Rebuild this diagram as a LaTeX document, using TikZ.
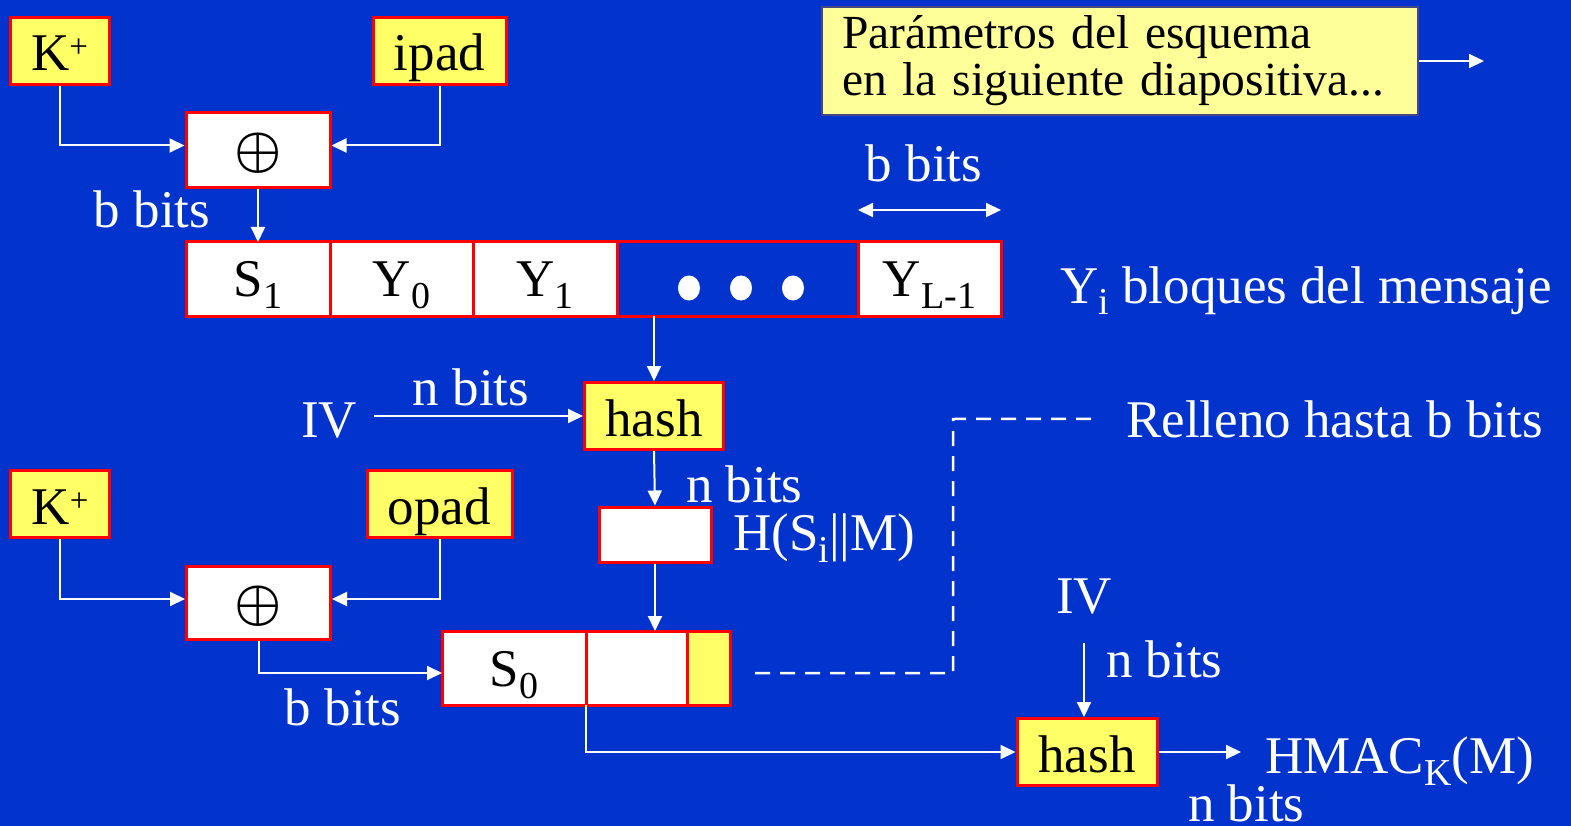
\documentclass[tikz,border=0pt]{standalone}
\usepackage{fontspec}
\setmainfont{Liberation Serif}
\usetikzlibrary{arrows.meta,calc}
\definecolor{bg}{RGB}{2,51,204}
\definecolor{boxyellow}{RGB}{255,255,102}
\definecolor{paleyellow}{RGB}{255,255,153}
\definecolor{boxred}{RGB}{255,0,0}
\definecolor{noteedge}{RGB}{70,70,130}
\newcommand\fmain{\fontsize{53}{58}\selectfont}
\newcommand\fnote{\fontsize{47.5}{47}\selectfont}
\newcommand\lowsub[1]{\raisebox{-12pt}{\fontsize{38}{38}\selectfont #1}}
\newcommand\kplus{K\raisebox{13pt}{\fontsize{33}{33}\selectfont +}}
\newcommand\xorglyph{\scalebox{5.3}{\fontsize{10}{12}\selectfont\boldmath$\oplus$}}

\begin{document}
\begin{tikzpicture}[x=1pt,y=-1pt,
  every node/.style={font=\fmain, inner sep=0pt},
  ybox/.style={draw=boxred, line width=3pt, fill=boxyellow, text=black,
               minimum width=#1, minimum height=67pt,
               text height=40pt, text depth=0pt},
  wbox/.style={draw=boxred, line width=3pt, fill=white, text=black},
  cell/.style={draw=boxred, line width=3pt, fill=white, text=black,
               minimum height=74pt, outer sep=0pt,
               text height=36pt, text depth=0pt},
  lbl/.style={text=white},
  arr/.style={draw=white, line width=2pt, -{Triangle[length=15pt,width=14pt]}},
  darr/.style={draw=white, line width=2pt,
               {Triangle[length=15pt,width=14pt]}-{Triangle[length=15pt,width=14pt]}},
  seg/.style={draw=white, line width=2pt},
  padline/.style={draw=white, line width=2.5pt, dash pattern=on 15pt off 10pt},
  xorsym/.style={text height=34pt, text depth=2pt}
]
\useasboundingbox (0,0) rectangle (1571,826);
\fill[bg] (0,0) rectangle (1571,826);

% ---- inner key: K+ xor ipad ----
\node[ybox=99pt] (kp1) at (59.5,51) {\kplus};
\node[ybox=133pt] (ipad) at (439.5,51) {ipad};
\node[wbox, xorsym, minimum width=144pt, minimum height=75pt] (x1) at (258,150.5) {\xorglyph};
\draw[arr] (kp1.south) |- ([yshift=5pt]x1.west);
\draw[arr] (ipad.south) |- ([yshift=5pt]x1.east);
\node[lbl, anchor=base] (bb1) at (152,228) {b bits};

% ---- message row ----
\node[cell, minimum width=144pt] (s1) at (258,279) {S\lowsub{1}};
\node[cell, minimum width=143pt, anchor=west] (y0) at (s1.east) {Y\lowsub{0}};
\node[cell, minimum width=144pt, anchor=west] (y1) at (y0.east) {Y\lowsub{1}};
\node[cell, fill=bg, minimum width=241pt, anchor=west] (dots) at (y1.east) {};
\node[cell, minimum width=143pt, anchor=west] (yl) at (dots.east) {Y\lowsub{L-1}};
\fill[white] (689,288) ellipse [x radius=11pt, y radius=12.5pt];
\fill[white] (741,288) ellipse [x radius=11pt, y radius=12.5pt];
\fill[white] (793,288) ellipse [x radius=11pt, y radius=12.5pt];
\draw[arr] (x1.south) -- (s1.north);
\draw[darr] ([yshift=32pt]yl.north west) -- ([yshift=32pt]yl.north east);
\node[lbl, anchor=base] (bb2) at (924,182) {b bits};
\node[lbl, anchor=base west] (yib) at (1060,303) {Y\lowsub{i} bloques del mensaje};

% ---- note box ----
\node[draw=noteedge, line width=2pt, fill=paleyellow, text=black, font=\fnote,
      align=left, text width=556pt, inner xsep=20pt, minimum height=108pt]
      (param) at (1120,61) {Parámetros del esquema\\en la siguiente diapositiva...};
\coordinate (pout) at (1484,61);
\draw[arr] (param.east) -- (pout);

% ---- first hash ----
\node[ybox=139pt] (hash1) at (654,416) {hash};
\draw[arr] (hash1.north |- dots.south) -- (hash1.north);
\node[lbl, anchor=base] (iv1) at (329,437) {IV};
\draw[arr, shorten <=17pt] (iv1.east |- hash1.west) -- (hash1.west);
\node[lbl, anchor=base] (nb1) at (471,405) {n bits};
\node[wbox, minimum width=112pt, minimum height=55pt] (hbox) at (655,534.5) {};
\draw[arr] (hash1.south) -- (hbox.north);
\node[lbl, anchor=base west] (nb2) at (686,502) {n bits};
\node[lbl, anchor=base west] (hsm) at (733,550) {H(S\lowsub{i}||M)};

% ---- outer key: K+ xor opad ----
\node[ybox=99pt] (kp2) at (60,504) {\kplus};
\node[ybox=145pt] (opad) at (439.5,504) {opad};
\node[wbox, xorsym, minimum width=144pt, minimum height=73pt] (x2) at (258.5,603) {\xorglyph};
\draw[arr] (kp2.south) |- ([yshift=4pt]x2.west);
\draw[arr] (opad.south) |- ([yshift=4pt]x2.east);

% ---- second row ----
\node[cell, minimum width=144pt] (s0) at (514,668) {S\lowsub{0}};
\node[cell, minimum width=101pt, anchor=west] (hw) at (s0.east) {};
\node[cell, fill=boxyellow, minimum width=43pt, anchor=west] (hy) at (hw.east) {};
\draw[arr] (x2.south) |- ([yshift=-5pt]s0.west);
\node[lbl, anchor=base] (bb3) at (343,725) {b bits};
\draw[arr] (hbox.south) -- (hbox.south |- hw.north);

% ---- padding note ----
\node[lbl, anchor=base west] (rel) at (1126,437) {Relleno hasta b bits};
\coordinate (dcorner) at (953,419);
\draw[padline] ([xshift=25pt,yshift=-5pt]hy.east) -| (dcorner) -- ([xshift=-31pt]rel.west);

% ---- second hash ----
\node[ybox=140pt] (hash2) at (1087,752) {hash};
\draw[seg] (s0.south east) |- ($(hash2.west)+(-15,0)$);
\draw[arr] (s0.south east |- hash2.west) -- (hash2.west);
\node[lbl, anchor=base] (iv2) at (1084,613) {IV};
\draw[arr, shorten <=29pt] (iv2.south) -- (iv2.south |- hash2.north);
\node[lbl, anchor=base west] (nb3) at (1106,677) {n bits};
\coordinate (hout) at (1241,752);
\draw[arr] (hash2.east) -- (hout);
\node[lbl, anchor=base west] (hmac) at (1265,773) {HMAC\lowsub{K}(M)};
\node[lbl, anchor=base west] (nb4) at (1188,821) {n bits};
\end{tikzpicture}
\end{document}
